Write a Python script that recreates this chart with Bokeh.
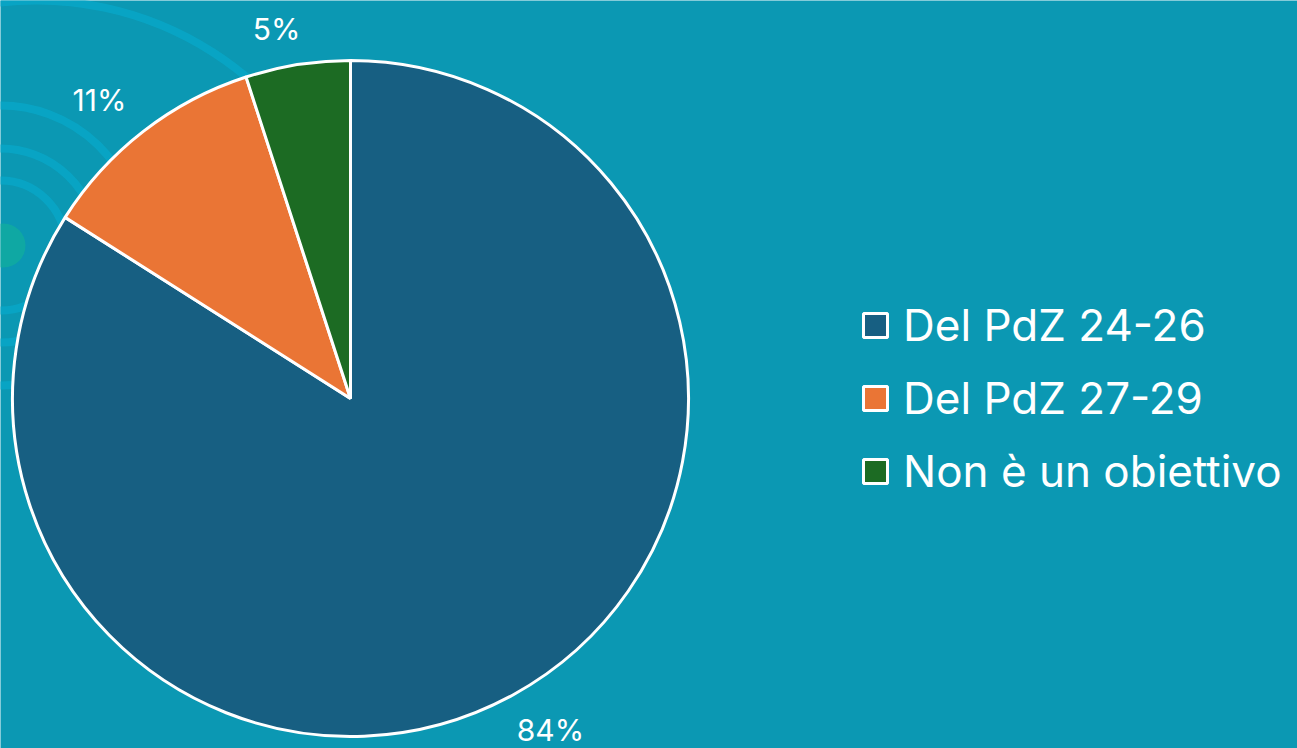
import math
from bokeh.plotting import figure
from bokeh.models import Range1d, ColumnDataSource, Legend, LegendItem
from bokeh.core.properties import value
from bokeh.embed import file_html
from bokeh.resources import INLINE

# ---- data ----
categories = ["Del PdZ 24-26", "Del PdZ 27-29", "Non è un obiettivo"]
values = [84, 11, 5]
labels = ["84%", "11%", "5%"]
colors = ["#175f82", "#ea7535", "#1c6b23"]

BG = "#0b98b3"
FONT = "Inter"

# geometry (style)
cx, cy, r = 350, 350, 338
p = figure(width=1297, height=748, x_range=Range1d(0, 1297), y_range=Range1d(0, 748),
           output_backend="svg", toolbar_location=None, min_border=0,
           background_fill_color=BG, border_fill_color=BG, outline_line_color=None)
p.axis.visible = False
p.grid.visible = False

# decorative background arcs
p.arc(x=[0, 0, 0], y=[503, 503, 503], radius=[140, 97, 65], start_angle=-1.6, end_angle=1.6,
      line_color="#07a7c8", line_width=8, line_alpha=0.8)
p.arc(x=[36], y=[422], radius=[326], start_angle=0.3, end_angle=1.7,
      line_color="#07a7c8", line_width=8, line_alpha=0.8)
p.scatter(x=[3], y=[503], size=44, fill_color="#10ad9f", line_color=None, alpha=0.8)

# wedges
total = sum(values)
starts, ends, mids = [], [], []
cum = 0.0
for v in values:
    a0 = math.pi / 2 - 2 * math.pi * cum / total
    a1 = math.pi / 2 - 2 * math.pi * (cum + v) / total
    starts.append(a0)
    ends.append(a1)
    mids.append((a0 + a1) / 2)
    cum += v

src = ColumnDataSource(dict(start=starts, end=ends, color=colors, cat=categories))
wr = p.wedge(x=cx, y=cy, radius=r, start_angle="start", end_angle="end", direction="clock",
             fill_color="color", line_color="white", line_width=3, source=src)

# labels outside
fs = 30
lx, ly = [], []
for lab, m in zip(labels, mids):
    m2 = m + math.radians(2.3)
    w = fs * (0.6 * (len(lab) - 1) + 0.9)
    h = fs
    R = r + 20 + abs(math.cos(m2)) * w / 2 + abs(math.sin(m2)) * h / 2
    lx.append(cx + R * math.cos(m2))
    ly.append(cy + R * math.sin(m2))
p.text(x=lx, y=ly, text=labels, text_color="white", text_font=value(FONT),
       text_font_size=f"{fs}px", text_align="center", text_baseline="middle")

legend = Legend(items=[LegendItem(label=c, renderers=[wr], index=i) for i, c in enumerate(categories)],
                location=(860, 250), orientation="vertical",
                glyph_width=30, glyph_height=30, label_standoff=13, spacing=19,
                padding=0, margin=0, border_line_alpha=0, background_fill_alpha=0,
                label_text_font=FONT, label_text_font_size="44px", label_text_color="white",
                label_text_baseline="middle")
p.add_layout(legend)

html = file_html(p, INLINE)
html = html.replace("<body>", f'<body style="background:{BG}">', 1)
open("out.html", "w").write(html)
